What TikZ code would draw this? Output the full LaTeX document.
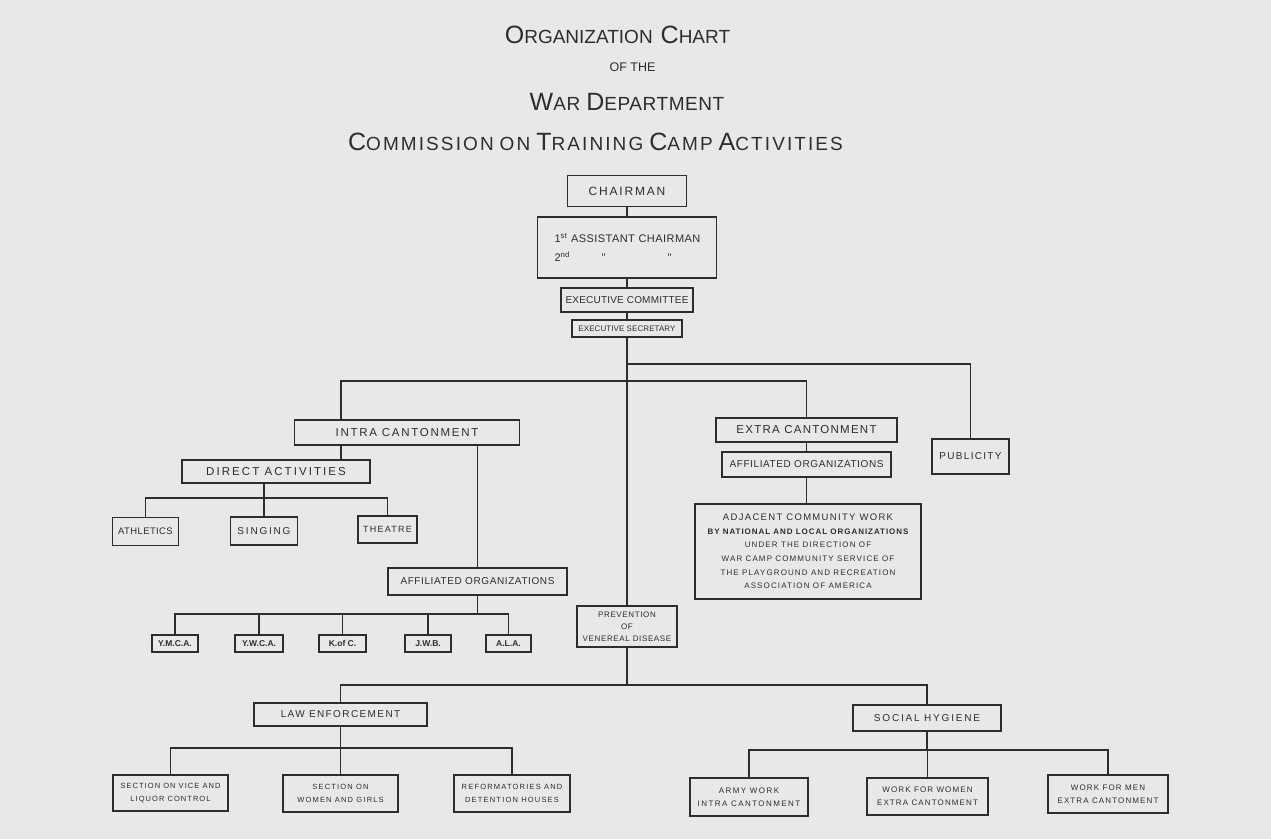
\documentclass[tikz,border=0pt]{standalone}
\usepackage{fontspec}
\setmainfont{Liberation Sans}
\definecolor{paper}{RGB}{232,232,230}
\definecolor{ink}{RGB}{45,45,45}
\newcommand{\bx}[3]{\fontsize{#1}{#2}\selectfont\addfontfeature{LetterSpace=#3}}
\newcommand{\Bg}{\fontsize{25}{25}\selectfont}
\newcommand{\Sm}{\fontsize{19}{19}\selectfont}
\begin{document}
\begin{tikzpicture}[x=1pt,y=-1pt,
  box/.style={draw=ink, line width=1.3pt, inner sep=0pt, align=center, text=ink},
  wire/.style={draw=ink, line width=1.4pt, line join=miter},
  ttl/.style={anchor=base, text=ink, inner sep=0pt}]
\fill[paper] (0,0) rectangle (1271,839);
\useasboundingbox (0,0) rectangle (1271,839);

% titles
\node[ttl] (t1) at (617.5,43) {{\Bg O}{\Sm RGANIZATION}\hspace{8pt}{\Bg C}{\Sm HART}};
\node[ttl] (t2) at (632.5,71) {\fontsize{12.5}{12.5}\selectfont OF THE};
\node[ttl, font=\addfontfeature{LetterSpace=3}] (t3) at (627,110) {{\Bg W}{\Sm AR}\hspace{6pt}{\Bg D}{\Sm EPARTMENT}};
\node[ttl, font=\addfontfeature{LetterSpace=11}] (t4) at (595.5,150) {{\Bg C}{\Sm OMMISSION}\hspace{6pt}{\Sm ON}\hspace{6pt}{\Bg T}{\Sm RAINING}\hspace{6pt}{\Bg C}{\Sm AMP}\hspace{6pt}{\Bg A}{\Sm CTIVITIES}};

% top chain
\node[box, minimum width=119, minimum height=31, font=\bx{12}{14}{15}] (chair) at (627,191) {CHAIRMAN};
\node[box, minimum width=179, minimum height=61, font=\bx{11}{19}{4}, align=left, text width=145] (asst) at (627,247.5)
  {1\textsuperscript{st} ASSISTANT CHAIRMAN\\ \makebox[47pt][l]{2\textsuperscript{nd}}\makebox[66pt][l]{\textquotedbl}\textquotedbl};
\node[box, minimum width=132, minimum height=24, font=\bx{10}{12}{2}] (excom) at (627,300) {EXECUTIVE COMMITTEE};
\node[box, minimum width=110, minimum height=17, font=\bx{8}{10}{1}] (exsec) at (627,328.5) {EXECUTIVE SECRETARY};

% intra cantonment
\node[box, minimum width=225, minimum height=25, font=\bx{11.5}{13}{15}] (intra) at (407,432.5) {INTRA CANTONMENT};
\node[box, minimum width=188, minimum height=23, font=\bx{11.5}{13}{18}] (direct) at (276,471.5) {DIRECT ACTIVITIES};
\node[box, minimum width=66, minimum height=28, font=\bx{9.5}{11}{4}] (athl) at (145.5,531.5) {ATHLETICS};
\node[box, minimum width=67, minimum height=28, font=\bx{10}{12}{18}] (sing) at (264,531) {SINGING};
\node[box, minimum width=59, minimum height=27, font=\bx{9}{11}{14}] (thea) at (387.5,529.5) {THEATRE};
\node[box, minimum width=179, minimum height=27, font=\bx{10}{12}{6}] (affl) at (477.5,581.5) {AFFILIATED ORGANIZATIONS};
\tikzset{org/.style={box, minimum height=17, font=\bx{8.5}{10}{0}\bfseries}}
\node[org, minimum width=46] (ymca) at (175,643.5) {Y.M.C.A.};
\node[org, minimum width=48] (ywca) at (259,643.5) {Y.W.C.A.};
\node[org, minimum width=47] (kofc) at (342.5,643.5) {K.of C.};
\node[org, minimum width=46] (jwb) at (428,643.5) {J.W.B.};
\node[org, minimum width=45] (ala) at (508.5,643.5) {A.L.A.};

% extra cantonment
\node[box, minimum width=181, minimum height=24, font=\bx{11.5}{13}{11}] (extra) at (806.5,430) {EXTRA CANTONMENT};
\node[box, minimum width=169, minimum height=25, font=\bx{10}{12}{6}] (affr) at (806.5,464.5) {AFFILIATED ORGANIZATIONS};
\node[box, minimum width=226, minimum height=95, font=\bx{8}{13.6}{14}] (adj) at (808,551.5)
  {{\bx{9.5}{13.6}{14}ADJACENT COMMUNITY WORK}\\
   {\bx{8}{13.6}{12}\bfseries BY NATIONAL AND LOCAL ORGANIZATIONS}\\
   UNDER THE DIRECTION OF\\
   WAR CAMP COMMUNITY SERVICE OF\\
   THE PLAYGROUND AND RECREATION\\
   ASSOCIATION OF AMERICA};
\node[box, minimum width=77, minimum height=35, font=\bx{10}{12}{13}] (pub) at (970.5,456.5) {PUBLICITY};

% prevention
\node[box, minimum width=100, minimum height=41, font=\bx{8}{12}{8}] (prev) at (627,626.5) {PREVENTION\\OF\\VENEREAL DISEASE};
\node[box, minimum width=173, minimum height=23, font=\bx{10}{12}{14}] (law) at (340.5,714.5) {LAW ENFORCEMENT};
\node[box, minimum width=115, minimum height=36, font=\bx{7.5}{13}{14}] (vice) at (170.5,793) {SECTION ON VICE AND\\LIQUOR CONTROL};
\node[box, minimum width=115, minimum height=37, font=\bx{7.5}{13}{16}] (women) at (340.5,793.5) {SECTION ON\\WOMEN AND GIRLS};
\node[box, minimum width=116, minimum height=37, font=\bx{7.5}{13}{16}] (reform) at (512,793.5) {REFORMATORIES AND\\DETENTION HOUSES};
\node[box, minimum width=148, minimum height=26, font=\bx{10}{12}{18}] (social) at (927,718) {SOCIAL HYGIENE};
\node[box, minimum width=118, minimum height=38, font=\bx{8}{13}{18}] (army) at (749,797) {ARMY WORK\\INTRA CANTONMENT};
\node[box, minimum width=121, minimum height=37, font=\bx{8}{13}{14}] (wwomen) at (927.5,796.5) {WORK FOR WOMEN\\EXTRA CANTONMENT};
\node[box, minimum width=120, minimum height=38, font=\bx{8}{13}{14}] (wmen) at (1108,794) {WORK FOR MEN\\EXTRA CANTONMENT};

% junctions
\coordinate (xI) at (341,0);
\coordinate (j1) at (627,364);
\coordinate (j2) at (627,381);
\coordinate (dbus) at (0,498);
\coordinate (abus) at (0,614);
\coordinate (pbus) at (0,685);
\coordinate (lbus) at (0,748);
\coordinate (sbus) at (0,750);

% connectors
\draw[wire] (chair.south) -- (asst.north);
\draw[wire] (asst.south) -- (excom.north);
\draw[wire] (excom.south) -- (exsec.north);
\draw[wire] (exsec.south) -- (prev.north);
\draw[wire] (j1) -| (pub.north);
\draw[wire] (extra.north) |- (j2) -| (intra.north -| xI);
\draw[wire] (intra.south -| xI) -- (direct.north -| xI);
\draw[wire] (direct.south -| sing.north) -- (sing.north);
\draw[wire] (athl.north) |- (dbus -| sing.north) -| (thea.north);
\draw[wire] (intra.south -| affl.north) -- (affl.north);
\draw[wire] (affl.south) -- (affl.south |- abus);
\draw[wire] (ymca.north) |- (abus -| ala.north) -- (ala.north);
\foreach \n in {ywca,kofc,jwb} \draw[wire] (\n.north) -- (\n.north |- abus);
\draw[wire] (extra.south) -- (affr.north);
\draw[wire] (affr.south) -- (affr.south |- adj.north);
\draw[wire] (prev.south) -- (prev.south |- pbus);
\draw[wire] (law.north) |- (pbus -| social.north) -- (social.north);
\draw[wire] (law.south) -- (law.south |- lbus);
\draw[wire] (vice.north) |- (lbus -| reform.north) -- (reform.north);
\draw[wire] (women.north) -- (women.north |- lbus);
\draw[wire] (social.south) -- (social.south |- sbus);
\draw[wire] (army.north) |- (sbus -| wmen.north) -- (wmen.north);
\draw[wire] (wwomen.north) -- (wwomen.north |- sbus);
\end{tikzpicture}
\end{document}
